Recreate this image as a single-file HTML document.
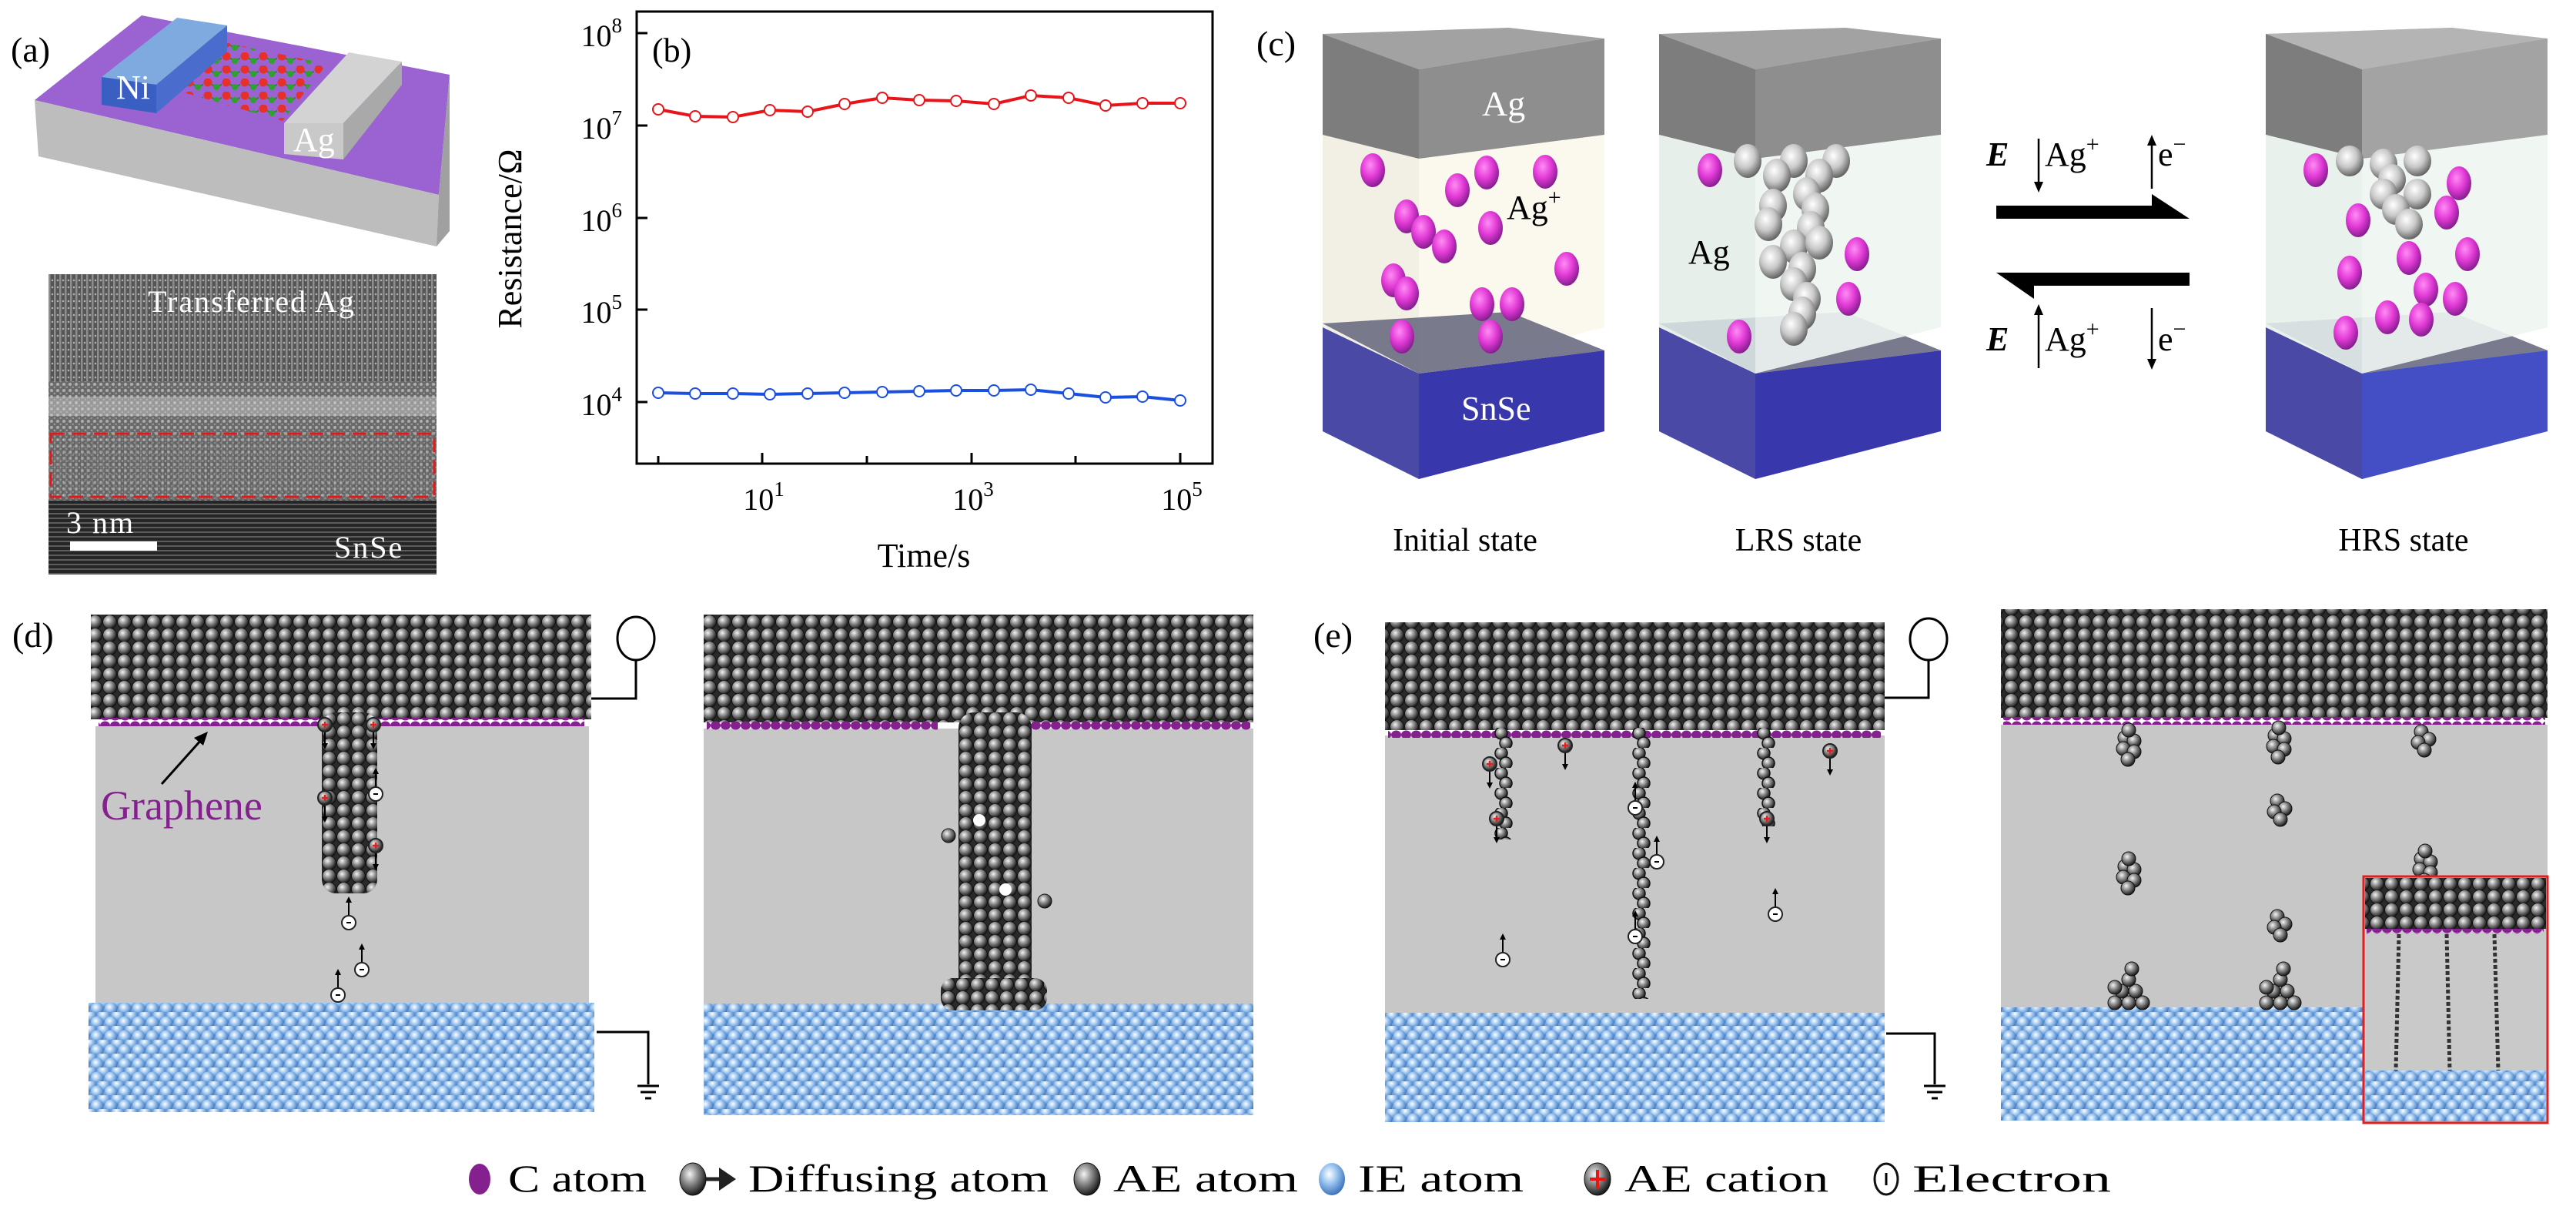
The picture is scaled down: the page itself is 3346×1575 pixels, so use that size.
<!DOCTYPE html>
<html><head><meta charset="utf-8"><style>
html,body{margin:0;padding:0;background:#fff}
svg{display:block}
text{font-family:"Liberation Serif",serif}
</style></head><body>
<svg width="3346" height="1575" viewBox="0 0 3346 1575" xmlns="http://www.w3.org/2000/svg">
<defs>
<radialGradient id="gd" cx=".38" cy=".35" r=".65"><stop offset="0" stop-color="#f4f4f4"/><stop offset=".45" stop-color="#8e8e8e"/><stop offset="1" stop-color="#1c1c1c"/></radialGradient>
<radialGradient id="gb" cx=".4" cy=".35" r=".65"><stop offset="0" stop-color="#ffffff"/><stop offset=".45" stop-color="#9cc6f0"/><stop offset="1" stop-color="#3f74bd"/></radialGradient>
<radialGradient id="gp" cx=".4" cy=".35" r=".7"><stop offset="0" stop-color="#ff8cf4"/><stop offset=".5" stop-color="#e23ad6"/><stop offset="1" stop-color="#7a1a86"/></radialGradient>
<radialGradient id="gs" cx=".4" cy=".35" r=".7"><stop offset="0" stop-color="#ffffff"/><stop offset=".5" stop-color="#c8c8c8"/><stop offset="1" stop-color="#555"/></radialGradient>
<pattern id="pd" width="19" height="17" patternUnits="userSpaceOnUse"><rect width="19" height="17" fill="#2a2a2a"/><circle cx="9.5" cy="8.5" r="9" fill="url(#gd)" stroke="#111" stroke-width="1"/></pattern>
<pattern id="pb" width="18" height="18" patternUnits="userSpaceOnUse"><rect width="18" height="18" fill="#6f9fd8"/><circle cx="9" cy="5" r="8.5" fill="url(#gb)"/><circle cx="0" cy="14" r="8.5" fill="url(#gb)"/><circle cx="18" cy="14" r="8.5" fill="url(#gb)"/></pattern>
<pattern id="pg" width="13" height="12" patternUnits="userSpaceOnUse"><ellipse cx="6.5" cy="6" rx="6.5" ry="5.5" fill="#85208f"/></pattern>
<pattern id="pc" width="24" height="26" patternUnits="userSpaceOnUse"><circle cx="9" cy="7" r="8" fill="url(#gd)" stroke="#111" stroke-width="1.5"/><circle cx="15" cy="20" r="8" fill="url(#gd)" stroke="#111" stroke-width="1.5"/></pattern>
<pattern id="pl" width="24" height="17" patternUnits="userSpaceOnUse"><path d="M6 5 L17 11 L30 5" stroke="#2b8a2b" stroke-width="2" fill="none"/><circle cx="6" cy="5" r="5.5" fill="#e8302a"/><circle cx="17" cy="11" r="4" fill="#2da32d"/></pattern>
<pattern id="pt" width="7" height="9" patternUnits="userSpaceOnUse"><rect width="7" height="9" fill="#555"/><rect width="2.5" height="9" fill="#8e8e8e"/><circle cx="5" cy="4" r="1.3" fill="#b0b0b0"/></pattern>
<pattern id="pt2" width="6" height="6" patternUnits="userSpaceOnUse"><rect width="6" height="6" fill="#262626"/><rect width="6" height="2" fill="#5c5c5c"/></pattern>
<pattern id="pt3" width="8" height="8" patternUnits="userSpaceOnUse"><rect width="8" height="8" fill="#6a6a6a"/><circle cx="3" cy="3" r="2" fill="#b5b5b5"/><circle cx="7" cy="7" r="1.5" fill="#999"/></pattern>
<g id="elec"><line x1="0" y1="-10" x2="0" y2="-30" stroke="#000" stroke-width="2"/><path d="M-4 -26 L0 -34 L4 -26Z"/><circle r="9" fill="#fff" stroke="#222" stroke-width="2"/><line x1="-3" y1="0" x2="3" y2="0" stroke="#000" stroke-width="2"/></g>
<g id="cat"><circle r="9" fill="url(#gd)" stroke="#222" stroke-width="2"/><path d="M-4 0H4M0 -4V4" stroke="#e02020" stroke-width="2.5"/><line x1="0" y1="10" x2="0" y2="28" stroke="#000" stroke-width="2"/><path d="M-4 24 L0 32 L4 24Z"/></g>
<g id="clu"><circle cx="0" cy="0" r="9" fill="url(#gd)" stroke="#111"/><circle cx="12" cy="4" r="9" fill="url(#gd)" stroke="#111"/><circle cx="-2" cy="14" r="9" fill="url(#gd)" stroke="#111"/><circle cx="12" cy="18" r="9" fill="url(#gd)" stroke="#111"/><circle cx="4" cy="28" r="9" fill="url(#gd)" stroke="#111"/><circle cx="5" cy="-10" r="9" fill="url(#gd)" stroke="#111"/></g>
<g id="clu2"><circle cx="0" cy="0" r="9" fill="url(#gd)" stroke="#111"/><circle cx="10" cy="10" r="9" fill="url(#gd)" stroke="#111"/><circle cx="-4" cy="14" r="9" fill="url(#gd)" stroke="#111"/><circle cx="4" cy="24" r="9" fill="url(#gd)" stroke="#111"/></g>
<g id="pile"><circle cx="-18" cy="0" r="9" fill="url(#gd)" stroke="#111"/><circle cx="0" cy="0" r="9" fill="url(#gd)" stroke="#111"/><circle cx="18" cy="0" r="9" fill="url(#gd)" stroke="#111"/><circle cx="-9" cy="-15" r="9" fill="url(#gd)" stroke="#111"/><circle cx="9" cy="-15" r="9" fill="url(#gd)" stroke="#111"/><circle cx="0" cy="-30" r="9" fill="url(#gd)" stroke="#111"/><circle cx="-18" cy="-20" r="9" fill="url(#gd)" stroke="#111"/><circle cx="4" cy="-44" r="9" fill="url(#gd)" stroke="#111"/></g>
</defs>

<!-- (a) -->
<text x="14" y="80" font-size="46">(a)</text>
<polygon points="45,130 184,20 584,97 570,253" fill="#9b63d2"/>
<polygon points="45,130 570,253 567,320 50,203" fill="#bdbdbd"/>
<polygon points="570,253 584,97 584,300 567,320" fill="#a0a0a0"/>
<polygon points="214,113 268,50 425,83 367,157" fill="url(#pl)"/>
<polygon points="132,100 230,23 295,33 203,110" fill="#7eaae0"/>
<polygon points="132,100 203,110 203,147 132,136" fill="#3a5fc2"/>
<polygon points="203,110 295,33 295,67 203,147" fill="#4a6ccc"/>
<polygon points="369,160 453,68 522,80 446,160" fill="#d3d3d3"/>
<polygon points="369,160 446,160 446,207 369,200" fill="#c9c9c9"/>
<polygon points="446,160 522,80 522,110 446,207" fill="#a9a9a9"/>
<text x="151" y="128" font-size="44" fill="#fff">Ni</text>
<text x="381" y="196" font-size="44" fill="#fff">Ag</text>
<!-- TEM -->
<rect x="63" y="356" width="504" height="390" fill="url(#pt)"/>
<rect x="63" y="495" width="504" height="65" fill="url(#pt3)" opacity=".9"/>
<rect x="63" y="515" width="504" height="25" fill="#d0d0d0" opacity=".45"/>
<rect x="63" y="560" width="504" height="90" fill="url(#pt3)" opacity=".7"/>
<rect x="63" y="650" width="504" height="96" fill="url(#pt2)"/>
<rect x="66" y="563" width="498" height="82" fill="none" stroke="#e01a1a" stroke-width="3" stroke-dasharray="18,10"/>
<text x="192" y="405" font-size="40" fill="#fff" letter-spacing="2">Transferred Ag</text>
<text x="86" y="692" font-size="40" fill="#fff" letter-spacing="2">3 nm</text>
<rect x="91" y="703" width="113" height="12" fill="#fff"/>
<text x="434" y="724" font-size="40" fill="#fff" letter-spacing="2">SnSe</text>

<!-- (b) chart -->
<rect x="827" y="15" width="748" height="587" fill="none" stroke="#000" stroke-width="3"/>
<g stroke="#000" stroke-width="3">
<line x1="827" y1="43" x2="841" y2="43"/><line x1="827" y1="163" x2="841" y2="163"/><line x1="827" y1="283" x2="841" y2="283"/><line x1="827" y1="402" x2="841" y2="402"/><line x1="827" y1="522" x2="841" y2="522"/>
<line x1="855" y1="602" x2="855" y2="592"/><line x1="990" y1="602" x2="990" y2="588"/><line x1="1126" y1="602" x2="1126" y2="592"/><line x1="1262" y1="602" x2="1262" y2="588"/><line x1="1397" y1="602" x2="1397" y2="592"/><line x1="1533" y1="602" x2="1533" y2="588"/>
</g>
<g font-size="40" text-anchor="end">
<text x="808" y="60">10<tspan font-size="27" dy="-18">8</tspan></text>
<text x="808" y="180">10<tspan font-size="27" dy="-18">7</tspan></text>
<text x="808" y="300">10<tspan font-size="27" dy="-18">6</tspan></text>
<text x="808" y="419">10<tspan font-size="27" dy="-18">5</tspan></text>
<text x="808" y="539">10<tspan font-size="27" dy="-18">4</tspan></text>
</g>
<g font-size="40" text-anchor="middle">
<text x="992" y="662">10<tspan font-size="27" dy="-18">1</tspan></text>
<text x="1264" y="662">10<tspan font-size="27" dy="-18">3</tspan></text>
<text x="1535" y="662">10<tspan font-size="27" dy="-18">5</tspan></text>
<text x="1200" y="736" font-size="44">Time/s</text>
<text transform="translate(677,310) rotate(-90)" font-size="44">Resistance/Ω</text>
</g>
<text x="847" y="80" font-size="44">(b)</text>
<polyline fill="none" stroke="#e8141a" stroke-width="4" points="855,142 903,151 952,152 1000,143 1049,145 1097,135 1146,127 1194,130 1242,131 1291,135 1339,124 1388,127 1436,137 1484,134 1533,134"/>
<g fill="#fff" stroke="#e8141a" stroke-width="2"><circle cx="855" cy="142" r="7"/><circle cx="903" cy="151" r="7"/><circle cx="952" cy="152" r="7"/><circle cx="1000" cy="143" r="7"/><circle cx="1049" cy="145" r="7"/><circle cx="1097" cy="135" r="7"/><circle cx="1146" cy="127" r="7"/><circle cx="1194" cy="130" r="7"/><circle cx="1242" cy="131" r="7"/><circle cx="1291" cy="135" r="7"/><circle cx="1339" cy="124" r="7"/><circle cx="1388" cy="127" r="7"/><circle cx="1436" cy="137" r="7"/><circle cx="1484" cy="134" r="7"/><circle cx="1533" cy="134" r="7"/></g>
<polyline fill="none" stroke="#1a4fe0" stroke-width="4" points="855,510 903,511 952,511 1000,512 1049,511 1097,510 1146,509 1194,508 1242,507 1291,507 1339,506 1388,511 1436,516 1484,515 1533,520"/>
<g fill="#fff" stroke="#1a4fe0" stroke-width="2"><circle cx="855" cy="510" r="7"/><circle cx="903" cy="511" r="7"/><circle cx="952" cy="511" r="7"/><circle cx="1000" cy="512" r="7"/><circle cx="1049" cy="511" r="7"/><circle cx="1097" cy="510" r="7"/><circle cx="1146" cy="509" r="7"/><circle cx="1194" cy="508" r="7"/><circle cx="1242" cy="507" r="7"/><circle cx="1291" cy="507" r="7"/><circle cx="1339" cy="506" r="7"/><circle cx="1388" cy="511" r="7"/><circle cx="1436" cy="516" r="7"/><circle cx="1484" cy="515" r="7"/><circle cx="1533" cy="520" r="7"/></g>

<!-- (c) -->
<text x="1632" y="72" font-size="46">(c)</text>
<g id="blk">
<polygon points="1718,175 1843,206 1843,485 1718,425" fill="#f2efe4"/>
<polygon points="1843,206 2084,175 2084,425 1843,485" fill="#fbf8ee"/>
<polygon points="1718,425 1843,485 1843,622 1718,560" fill="#4a4aa6"/>
<polygon points="1843,485 2084,455 2084,560 1843,622" fill="#3838ac"/>
<polygon points="1718,420 1960,405 2084,455 1843,485" fill="#6c6c82" opacity=".9"/>
<polygon points="1718,44 1960,36 2084,50 1843,90" fill="#a2a2a2"/>
<polygon points="1718,44 1843,90 1843,206 1718,175" fill="#7d7d7d"/>
<polygon points="1843,90 2084,50 2084,175 1843,206" fill="#8e8e8e"/>
</g>
<g fill="url(#gp)">
<ellipse cx="1783" cy="221" rx="16" ry="22"/><ellipse cx="1893" cy="247" rx="16" ry="22"/><ellipse cx="1931" cy="224" rx="16" ry="22"/><ellipse cx="2007" cy="223" rx="16" ry="22"/><ellipse cx="1827" cy="281" rx="16" ry="22"/><ellipse cx="1849" cy="301" rx="16" ry="22"/><ellipse cx="1876" cy="320" rx="16" ry="22"/><ellipse cx="1936" cy="296" rx="16" ry="22"/><ellipse cx="2035" cy="349" rx="16" ry="22"/><ellipse cx="1810" cy="364" rx="16" ry="22"/><ellipse cx="1827" cy="381" rx="16" ry="22"/><ellipse cx="1925" cy="395" rx="16" ry="22"/><ellipse cx="1964" cy="395" rx="16" ry="22"/><ellipse cx="1821" cy="437" rx="16" ry="22"/><ellipse cx="1936" cy="437" rx="16" ry="22"/>
</g>
<text x="1925" y="150" font-size="46" fill="#fff">Ag</text>
<text x="1957" y="284" font-size="44">Ag<tspan font-size="30" dy="-18">+</tspan></text>
<text x="1898" y="545" font-size="44" fill="#fff">SnSe</text>
<g transform="translate(437,0)">
<use href="#blk"/>
<polygon points="1718,175 1843,206 1843,485 1718,425" fill="#e4efec" opacity=".8"/>
<polygon points="1843,206 2084,175 2084,425 1843,485" fill="#eef6f3" opacity=".9"/>
</g>
<g fill="url(#gs)">
<ellipse cx="2270" cy="209" rx="18" ry="22"/><ellipse cx="2330" cy="209" rx="18" ry="22"/><ellipse cx="2385" cy="209" rx="18" ry="22"/><ellipse cx="2308" cy="228" rx="18" ry="22"/><ellipse cx="2363" cy="228" rx="18" ry="22"/><ellipse cx="2347" cy="252" rx="18" ry="22"/><ellipse cx="2303" cy="267" rx="18" ry="22"/><ellipse cx="2358" cy="272" rx="18" ry="22"/><ellipse cx="2297" cy="291" rx="18" ry="22"/><ellipse cx="2352" cy="296" rx="18" ry="22"/><ellipse cx="2330" cy="320" rx="18" ry="22"/><ellipse cx="2363" cy="315" rx="18" ry="22"/><ellipse cx="2303" cy="340" rx="18" ry="22"/><ellipse cx="2341" cy="349" rx="18" ry="22"/><ellipse cx="2330" cy="369" rx="18" ry="22"/><ellipse cx="2347" cy="388" rx="18" ry="22"/><ellipse cx="2341" cy="407" rx="18" ry="22"/><ellipse cx="2330" cy="427" rx="18" ry="22"/>
</g>
<g fill="url(#gp)"><ellipse cx="2221" cy="221" rx="16" ry="22"/><ellipse cx="2412" cy="330" rx="16" ry="22"/><ellipse cx="2401" cy="388" rx="16" ry="22"/><ellipse cx="2259" cy="437" rx="16" ry="22"/></g>
<text x="2193" y="342" font-size="44">Ag</text>
<g transform="translate(1225,0)">
<use href="#blk"/>
<polygon points="1718,175 1843,206 1843,485 1718,425" fill="#e8f1ee" opacity=".85"/>
<polygon points="1843,206 2084,175 2084,425 1843,485" fill="#eef6f3" opacity=".9"/>
<polygon points="1718,44 1960,36 2084,50 1843,90" fill="#c0c0c0" opacity=".6"/>
<polygon points="1843,90 2084,50 2084,175 1843,206" fill="#b0b0b0" opacity=".6"/>
<polygon points="1843,485 2084,455 2084,560 1843,622" fill="#4c5ad0" opacity=".7"/>
</g>
<g fill="url(#gs)"><ellipse cx="3052" cy="209" rx="18" ry="20"/><ellipse cx="3096" cy="213" rx="18" ry="20"/><ellipse cx="3140" cy="209" rx="18" ry="20"/><ellipse cx="3107" cy="233" rx="18" ry="20"/><ellipse cx="3096" cy="252" rx="18" ry="20"/><ellipse cx="3140" cy="252" rx="18" ry="20"/><ellipse cx="3112" cy="272" rx="18" ry="20"/><ellipse cx="3129" cy="291" rx="18" ry="20"/></g>
<g fill="url(#gp)"><ellipse cx="3008" cy="221" rx="16" ry="22"/><ellipse cx="3194" cy="238" rx="16" ry="22"/><ellipse cx="3178" cy="276" rx="16" ry="22"/><ellipse cx="3063" cy="286" rx="16" ry="22"/><ellipse cx="3129" cy="335" rx="16" ry="22"/><ellipse cx="3205" cy="330" rx="16" ry="22"/><ellipse cx="3052" cy="354" rx="16" ry="22"/><ellipse cx="3151" cy="376" rx="16" ry="22"/><ellipse cx="3189" cy="388" rx="16" ry="22"/><ellipse cx="3101" cy="412" rx="16" ry="22"/><ellipse cx="3145" cy="415" rx="16" ry="22"/><ellipse cx="3047" cy="432" rx="16" ry="22"/></g>
<polygon points="2593,267 2795,267 2795,252 2844,284 2593,284" fill="#000"/>
<polygon points="2844,354 2844,371 2642,371 2642,388 2593,354" fill="#000"/>
<g font-size="44">
<text x="2580" y="215" font-weight="bold" font-style="italic">E</text>
<text x="2656" y="215">Ag<tspan font-size="30" dy="-18">+</tspan></text>
<text x="2803" y="215">e<tspan font-size="30" dy="-18">−</tspan></text>
<text x="2580" y="455" font-weight="bold" font-style="italic">E</text>
<text x="2656" y="455">Ag<tspan font-size="30" dy="-18">+</tspan></text>
<text x="2803" y="455">e<tspan font-size="30" dy="-18">−</tspan></text>
</g>
<g stroke="#000" stroke-width="2.5"><line x1="2648" y1="180" x2="2648" y2="240"/><line x1="2795" y1="245" x2="2795" y2="185"/><line x1="2648" y1="478" x2="2648" y2="405"/><line x1="2795" y1="400" x2="2795" y2="470"/></g>
<path d="M2642,236 L2648,250 L2654,236Z M2789,189 L2795,175 L2801,189Z M2642,409 L2648,395 L2654,409Z M2789,466 L2795,480 L2801,466Z"/>
<g font-size="42" text-anchor="middle"><text x="1903" y="715">Initial state</text><text x="2336" y="715">LRS state</text><text x="3122" y="715">HRS state</text></g>

<!-- (d) -->
<text x="16" y="840" font-size="46">(d)</text>
<rect x="124" y="943" width="641" height="360" fill="#c7c7c7"/>
<rect x="118" y="798" width="650" height="136" fill="url(#pd)"/>
<rect x="128" y="932" width="631" height="11" fill="url(#pg)"/>
<rect x="115" y="1302" width="657" height="142" fill="url(#pb)"/>
<g transform="translate(418,925)"><rect width="72" height="235" fill="url(#pd)" rx="18"/></g>
<use href="#cat" x="422" y="941"/><use href="#cat" x="485" y="941"/><use href="#cat" x="422" y="1036"/><use href="#cat" x="488" y="1098"/>
<use href="#elec" x="488" y="1031"/><use href="#elec" x="453" y="1198"/><use href="#elec" x="470" y="1259"/><use href="#elec" x="439" y="1292"/>
<text x="131" y="1064" font-size="54" fill="#85208f">Graphene</text>
<line x1="210" y1="1018" x2="262" y2="960" stroke="#000" stroke-width="3"/><path d="M270,950 L252,958 L264,968Z"/>
<ellipse cx="826" cy="829" rx="24" ry="28" fill="none" stroke="#000" stroke-width="3"/>
<polyline points="826,857 826,907 768,907" fill="none" stroke="#000" stroke-width="3"/>
<polyline points="775,1340 842,1340 842,1408" fill="none" stroke="#000" stroke-width="3"/>
<path d="M828 1410H856M832 1418H852M838 1426H846" stroke="#000" stroke-width="3"/>
<!-- d2 -->
<rect x="914" y="946" width="714" height="357" fill="#c7c7c7"/>
<rect x="914" y="798" width="714" height="140" fill="url(#pd)"/>
<rect x="918" y="936" width="300" height="12" fill="url(#pg)"/><rect x="1330" y="936" width="294" height="12" fill="url(#pg)"/>
<rect x="914" y="1303" width="714" height="145" fill="url(#pb)"/>
<g transform="translate(1245,925)"><rect width="95" height="385" fill="url(#pd)" rx="20"/></g>
<g transform="translate(1222,1270)"><rect width="138" height="42" fill="url(#pd)" rx="16"/></g>
<circle cx="1272" cy="1065" r="8" fill="#fff"/><circle cx="1306" cy="1155" r="8" fill="#fff"/>
<circle cx="1232" cy="1085" r="9" fill="url(#gd)" stroke="#111"/><circle cx="1357" cy="1170" r="9" fill="url(#gd)" stroke="#111"/>

<!-- (e) -->
<text x="1706" y="840" font-size="46">(e)</text>
<rect x="1799" y="955" width="649" height="360" fill="#c7c7c7"/>
<rect x="1799" y="808" width="649" height="140" fill="url(#pd)"/>
<rect x="1803" y="948" width="640" height="10" fill="url(#pg)"/>
<rect x="1799" y="1315" width="649" height="142" fill="url(#pb)"/>
<g transform="translate(1941,945)"><rect width="24" height="145" fill="url(#pc)"/></g>
<g transform="translate(2120,945)"><rect width="24" height="352" fill="url(#pc)"/></g>
<g transform="translate(2282,945)"><rect width="24" height="128" fill="url(#pc)"/></g>
<use href="#cat" x="1935" y="992"/><use href="#cat" x="1944" y="1063"/><use href="#cat" x="2033" y="968"/><use href="#cat" x="2295" y="1063"/><use href="#cat" x="2377" y="975"/>
<use href="#elec" x="2124" y="1049"/><use href="#elec" x="2152" y="1119"/><use href="#elec" x="2124" y="1216"/><use href="#elec" x="2306" y="1187"/><use href="#elec" x="1952" y="1246"/>
<ellipse cx="2505" cy="830" rx="24" ry="27" fill="none" stroke="#000" stroke-width="3"/>
<polyline points="2505,857 2505,906 2448,906" fill="none" stroke="#000" stroke-width="3"/>
<polyline points="2450,1342 2513,1342 2513,1408" fill="none" stroke="#000" stroke-width="3"/>
<path d="M2499 1410H2527M2503 1418H2523M2509 1426H2517" stroke="#000" stroke-width="3"/>
<!-- e2 -->
<rect x="2599" y="941" width="710" height="367" fill="#c7c7c7"/>
<rect x="2599" y="791" width="710" height="141" fill="url(#pd)"/>
<rect x="2602" y="931" width="704" height="10" fill="url(#pg)"/>
<rect x="2599" y="1308" width="710" height="147" fill="url(#pb)"/>
<use href="#clu" x="2760" y="958"/><use href="#clu" x="2955" y="955"/><use href="#clu2" x="3145" y="950"/>
<use href="#clu2" x="2958" y="1040"/><use href="#clu" x="2760" y="1125"/><use href="#clu" x="3145" y="1115"/><use href="#clu2" x="2958" y="1190"/>
<use href="#pile" x="2765" y="1302"/><use href="#pile" x="2962" y="1302"/>
<rect x="3070" y="1138" width="239" height="320" fill="#c9c9c9" stroke="#e02020" stroke-width="3"/>
<rect x="3072" y="1140" width="235" height="66" fill="url(#pd)"/>
<rect x="3074" y="1206" width="230" height="7" fill="url(#pg)"/>
<rect x="3072" y="1390" width="235" height="66" fill="url(#pb)"/>
<g stroke="#333" stroke-width="5" stroke-dasharray="5,3"><line x1="3116" y1="1213" x2="3112" y2="1390"/><line x1="3178" y1="1213" x2="3182" y2="1390"/><line x1="3240" y1="1213" x2="3245" y2="1390"/></g>
<rect x="3070" y="1138" width="239" height="320" fill="none" stroke="#e02020" stroke-width="3"/>

<!-- legend -->
<g font-size="50">
<ellipse cx="623" cy="1531" rx="14" ry="20" fill="#85208f"/><text x="660" y="1547" textLength="180" lengthAdjust="spacingAndGlyphs">C atom</text>
<ellipse cx="900" cy="1531" rx="17" ry="21" fill="url(#gd)" stroke="#111"/><path d="M917 1531H940" stroke="#222" stroke-width="5"/><path d="M934,1516 L956,1531 L934,1546Z" fill="#222"/><text x="972" y="1547" textLength="390" lengthAdjust="spacingAndGlyphs">Diffusing atom</text>
<ellipse cx="1412" cy="1531" rx="17" ry="21" fill="url(#gd)" stroke="#111"/><text x="1446" y="1547" textLength="240" lengthAdjust="spacingAndGlyphs">AE atom</text>
<ellipse cx="1730" cy="1531" rx="17" ry="21" fill="url(#gb)"/><text x="1764" y="1547" textLength="215" lengthAdjust="spacingAndGlyphs">IE atom</text>
<ellipse cx="2075" cy="1531" rx="17" ry="21" fill="url(#gd)" stroke="#111"/><path d="M2065 1531H2085M2075 1519V1543" stroke="#e81515" stroke-width="4"/><text x="2110" y="1547" textLength="265" lengthAdjust="spacingAndGlyphs">AE cation</text>
<ellipse cx="2450" cy="1531" rx="15" ry="20" fill="#fff" stroke="#111" stroke-width="3"/><path d="M2450 1523V1539" stroke="#000" stroke-width="3"/><text x="2484" y="1547" textLength="258" lengthAdjust="spacingAndGlyphs">Electron</text>
</g>
</svg>
</body></html>
